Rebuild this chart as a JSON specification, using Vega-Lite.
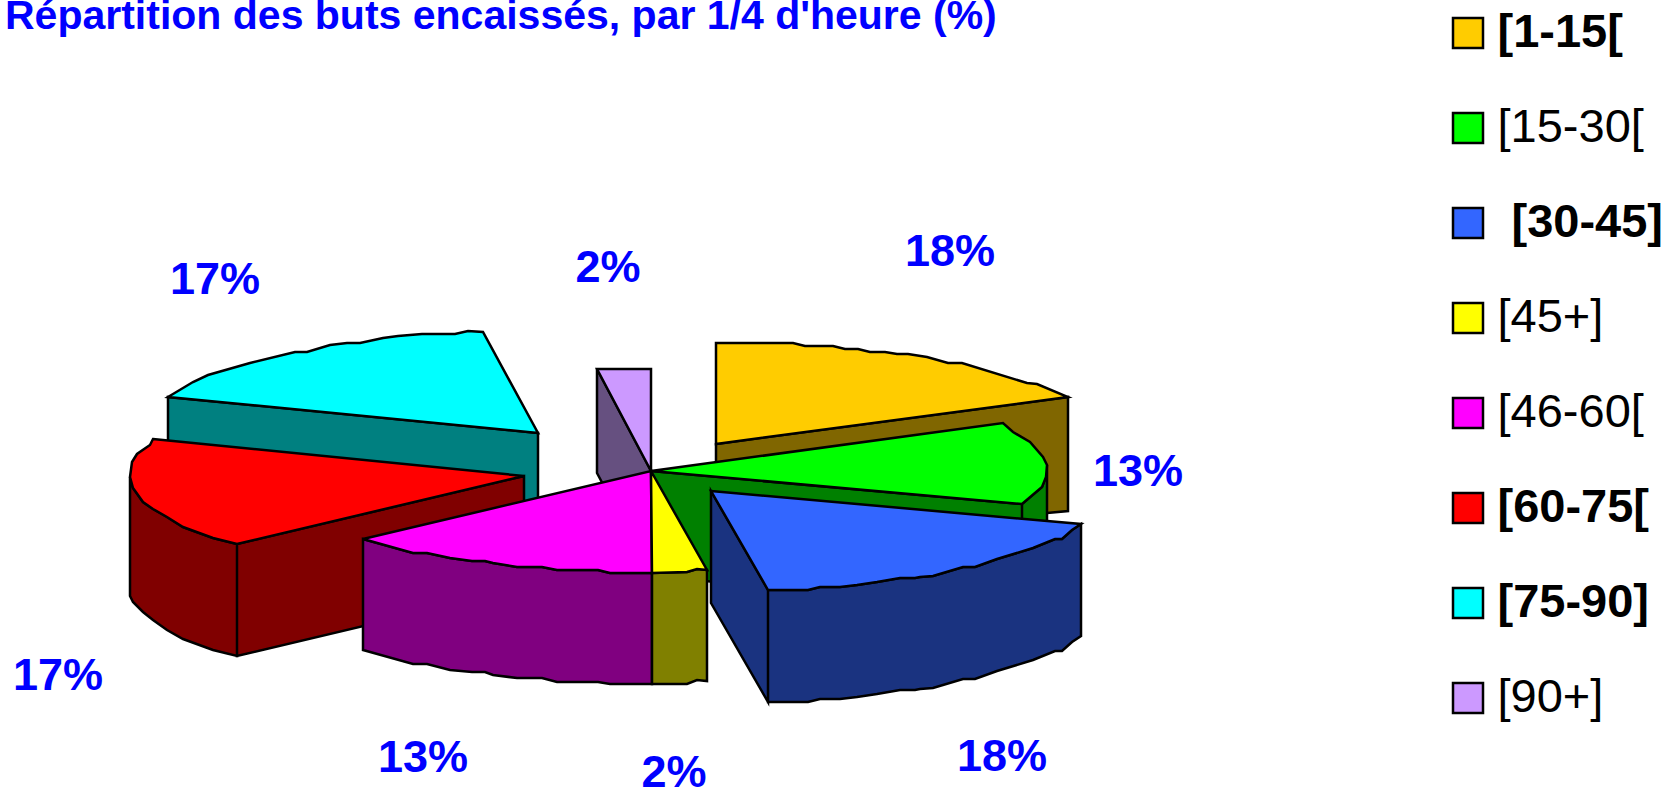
{
"$schema":"https://vega.github.io/schema/vega-lite/v6.json",
"width":1665,"height":745,
"autosize":{"type":"none"},
"padding":{"left":0,"right":0,"top":45,"bottom":0},
"background":"white",
"config":{"view":{"stroke":null}},
"title":{"text":"Répartition des buts encaissés, par 1/4 d'heure (%)","anchor":"start","frame":"group","font":"Liberation Sans","fontSize":41,"fontWeight":"bold","color":"#0000ff","baseline":"alphabetic","offset":0,"dx":5,"dy":60},
"data":{"values":[
{"period":"[75-90]","quarter":7,"share":0.17},
{"period":"[90+]","quarter":8,"share":0.02},
{"period":"[1-15[","quarter":1,"share":0.18},
{"period":"[15-30[","quarter":2,"share":0.13},
{"period":"[60-75[","quarter":6,"share":0.17},
{"period":"[46-60[","quarter":5,"share":0.13},
{"period":"[45+]","quarter":4,"share":0.02},
{"period":"[30-45]","quarter":3,"share":0.18}
]},
"layer":[
{"mark":{"type":"point","filled":true,"size":4,"opacity":1,"stroke":"black","strokeWidth":2.5,"strokeJoin":"miter","xOffset":-832.5,"yOffset":-417.5},
"encoding":{
"color":{"field":"period","type":"nominal","legend":null,"scale":{"domain":["[1-15[","[15-30[","[30-45]","[45+]","[46-60[","[60-75[","[75-90]","[90+]"],"range":["#806600","#008000","#1a3380","#808000","#800080","#800000","#008080","#665080"]}},
"shape":{"field":"period","type":"nominal","legend":null,"scale":{"domain":["[1-15[","[15-30[","[30-45]","[45+]","[46-60[","[60-75[","[75-90]","[90+]"],"range":[
"M716 444L1068 397L1068 511L1047 513L716 556Z",
"M651 471L1022 504L1022 616L651 575ZM1047 465L1046 477L1042 487L1022 504L1022 616L1042 599L1046 589L1047 577Z",
"M711 491L768 590L768 702L711 603ZM768 590L808 590L820 587L840 587L857 585L877 582L900 578L915 578L920 577L933 576L963 567L975 567L997 559L1033 548L1055 539L1062 539L1072 530L1081 524L1081 636L1072 642L1062 651L1055 651L1033 660L997 671L975 679L963 679L933 688L920 689L915 690L900 690L877 694L857 697L840 699L820 699L808 702L768 702Z",
"M652 573L687 572L697 569L707 570L707 681L697 680L687 684L652 684Z",
"M363 539L413 553L427 553L450 558L472 561L485 561L493 563L517 567L542 567L557 570L598 570L610 573L652 573L652 684L610 684L598 682L557 682L542 678L517 678L493 675L485 672L472 672L450 670L427 664L413 664L363 650Z",
"M237 544L524 476L524 588L237 656ZM130 477L133 488L143 502L153 509L167 517L183 527L213 538L237 544L237 656L213 650L183 639L167 630L153 620L143 612L133 602L130 596Z",
"M168 397L538 433L538 545L168 509Z",
"M597 369L651 471L651 575L597 473Z"
]}}
}},
{"mark":{"type":"point","filled":true,"size":4,"opacity":1,"stroke":"black","strokeWidth":2.5,"strokeJoin":"miter","xOffset":-832.5,"yOffset":-417.5},
"encoding":{
"color":{"field":"period","type":"nominal","legend":null,
"scale":{"domain":["[1-15[","[15-30[","[30-45]","[45+]","[46-60[","[60-75[","[75-90]","[90+]"],"range":["#ffcc00","#00ff00","#3366ff","#ffff00","#ff00ff","#ff0000","#00ffff","#cc99ff"]}},
"shape":{"field":"period","type":"nominal","legend":null,"scale":{"domain":["[1-15[","[15-30[","[30-45]","[45+]","[46-60[","[60-75[","[75-90]","[90+]"],"range":[
"M716 343L793 343L805 346L833 346L845 349L858 349L870 352L885 352L897 354L908 354L927 357L948 363L962 363L1027 383L1037 384L1068 397L716 444Z",
"M651 471L1003 423L1013 432L1030 442L1043 457L1047 465L1046 477L1042 487L1022 504Z",
"M711 491L1081 524L1072 530L1062 539L1055 539L1033 548L997 559L975 567L963 567L933 576L920 577L915 578L900 578L877 582L857 585L840 587L820 587L808 590L768 590Z",
"M651 471L707 570L697 569L687 572L652 573Z",
"M651 471L652 573L610 573L598 570L557 570L542 567L517 567L493 563L485 561L472 561L450 558L427 553L413 553L363 539Z",
"M153 439L524 476L237 544L213 538L183 527L167 517L153 509L143 502L133 488L130 477L132 462L137 454L150 445Z",
"M168 397L193 382L208 375L250 363L295 352L307 352L330 345L347 343L360 343L383 338L398 336L422 334L455 334L468 331L483 332L538 433Z",
"M597 369L651 369L651 471Z"
]}}
}},
{"mark":{"type":"point","filled":true,"shape":"square","size":1,"opacity":0},
"encoding":{
"color":{"field":"period","type":"nominal","title":null,
"scale":{"domain":["[1-15[","[15-30[","[30-45]","[45+]","[46-60[","[60-75[","[75-90]","[90+]"],"range":["#ffcc00","#00ff00","#3366ff","#ffff00","#ff00ff","#ff0000","#00ffff","#cc99ff"]},
"legend":{"orient":"none","legendX":1444.5,"legendY":-35.5,"symbolType":"square","symbolSize":900,"symbolStrokeColor":"black","symbolStrokeWidth":2.5,"symbolOpacity":1,"rowPadding":47,"labelOffset":6,"labelFont":"Liberation Sans","labelFontSize":47,"labelColor":"black","labelLimit":300,"padding":0,
"encode":{"symbols":{"update":{"opacity":{"value":1},"stroke":{"value":"black"},"strokeWidth":{"value":2.5}}},"labels":{"update":{"dx":{"signal":"datum.value=='[30-45]'?14:0"},"fontWeight":{"signal":"indexof(['[1-15[','[30-45]','[60-75[','[75-90]'],datum.value)>=0?'bold':'normal'"}}}}}}
}},
{"mark":{"type":"text","font":"Liberation Sans","fontSize":45,"fontWeight":"bold","color":"#0000ff","align":"center","baseline":"middle"},
"encoding":{
"text":{"field":"share","type":"quantitative","format":".0%"},
"x":{"field":"quarter","type":"quantitative","axis":null,"scale":{"domain":[1,2,3,4,5,6,7,8],"range":[950,1138,1002,674,423,58,215,608],"nice":false,"zero":false}},
"y":{"field":"quarter","type":"quantitative","axis":null,"scale":{"domain":[1,2,3,4,5,6,7,8],"range":[207,427,712,728,713,631,235,223],"nice":false,"zero":false}}
}}
],
"resolve":{"scale":{"color":"independent","shape":"independent"}}
}
